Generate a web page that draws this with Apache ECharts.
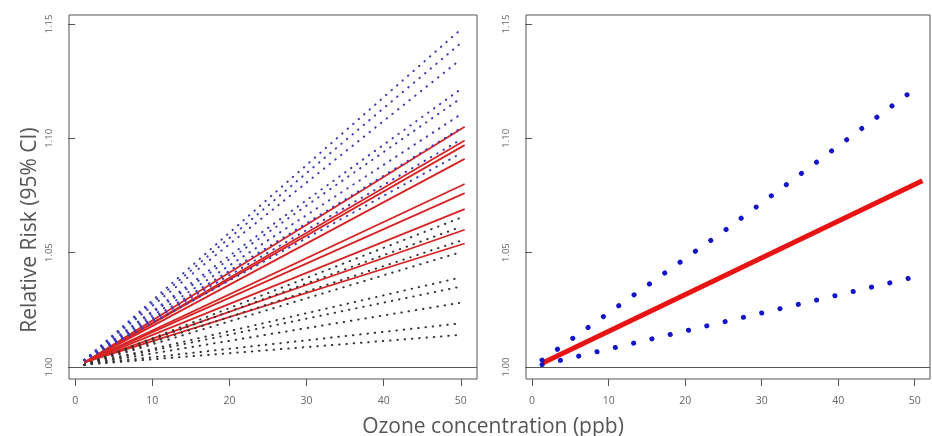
<!DOCTYPE html>
<html>
<head>
<meta charset="utf-8">
<script src="https://cdn.jsdelivr.net/npm/echarts@6/dist/echarts.min.js"></script>
<style>
  html, body { margin: 0; padding: 0; background: #fff; }
  #chart { width: 932px; height: 436px; }
</style>
</head>
<body>
<div id="chart"></div>
<script>
// tick labels
const xTicks = [0, 10, 20, 30, 40, 50];
const yTicks = [1.00, 1.05, 1.10, 1.15];

// left panel: one estimate line (red) + upper (blue) and lower (black) CI per model
const estX = [1.2, 50.5];
const ciX = [1.2, 49.8];
const estStart = 1.002;
const upperStart = 1.003;
const lowerStart = 1.001;
const estEnd = [1.105, 1.099, 1.097, 1.091, 1.080, 1.076, 1.069, 1.060, 1.054];
const upperEnd = [1.147, 1.141, 1.134, 1.121, 1.117, 1.110, 1.104, 1.099, 1.093];
const lowerEnd = [1.065, 1.061, 1.055, 1.050, 1.039, 1.035, 1.028, 1.019, 1.014];

// right panel: pooled estimate
const pooledX = [1.3, 51.0];
const pooledY = [1.0016, 1.0814];
const pooledUpperX = [1.3, 25.3, 49.0];
const pooledUpperY = [1.003, 1.060, 1.119];
const pooledLowerX = [1.3, 49.3];
const pooledLowerY = [1.001, 1.0388];

const font = "'Open Sans', 'DejaVu Sans', sans-serif";

function pairs(xs, ys) {
  return xs.map((x, i) => [x, ys[i]]);
}

function xAxisFor(gridIndex, max) {
  return {
    type: "value",
    gridIndex: gridIndex,
    min: -0.8,
    max: max,
    splitLine: { show: false },
    axisLine: { show: false },
    axisTick: {
      show: true,
      length: 7,
      customValues: xTicks,
      lineStyle: { color: "#555", width: 1 }
    },
    axisLabel: {
      customValues: xTicks,
      margin: 17,
      color: "#666",
      fontSize: 10.5,
      fontFamily: font
    }
  };
}

function yAxisFor(gridIndex) {
  return {
    type: "value",
    gridIndex: gridIndex,
    min: 0.99475,
    max: 1.1539,
    splitLine: { show: false },
    axisLine: { show: false },
    axisTick: {
      show: true,
      length: 7,
      customValues: yTicks,
      lineStyle: { color: "#555", width: 1 }
    },
    axisLabel: {
      customValues: yTicks,
      rotate: 90,
      margin: 15,
      color: "#666",
      fontSize: 9.5,
      fontFamily: font,
      formatter: v => v.toFixed(2)
    }
  };
}

const refLine = {
  silent: true,
  symbol: "none",
  label: { show: false },
  lineStyle: { color: "#555", width: 1, type: "solid" },
  data: [{ yAxis: 1 }]
};

const series = [];

// left panel
estEnd.forEach((end, i) => {
  series.push({
    type: "line",
    xAxisIndex: 0,
    yAxisIndex: 0,
    symbol: "none",
    silent: true,
    data: pairs(estX, [estStart, end]),
    lineStyle: { color: "#d62424", width: 1.8 },
    markLine: i === 0 ? refLine : undefined,
    z: 2
  });
});
upperEnd.forEach(end => {
  series.push({
    type: "line",
    xAxisIndex: 0,
    yAxisIndex: 0,
    symbol: "none",
    silent: true,
    data: pairs(ciX, [upperStart, end]),
    lineStyle: { color: "#3a3ab8", width: 2, type: [0.5, 6.8], cap: "round" },
    z: 3
  });
});
lowerEnd.forEach(end => {
  series.push({
    type: "line",
    xAxisIndex: 0,
    yAxisIndex: 0,
    symbol: "none",
    silent: true,
    data: pairs(ciX, [lowerStart, end]),
    lineStyle: { color: "#333", width: 2, type: [0.5, 6.8], cap: "round" },
    z: 3
  });
});

// right panel
series.push({
  type: "line",
  xAxisIndex: 1,
  yAxisIndex: 1,
  symbol: "none",
  silent: true,
  data: pairs(pooledX, pooledY),
  lineStyle: { color: "#e81414", width: 5 },
  markLine: refLine,
  z: 2
});
series.push({
  type: "line",
  xAxisIndex: 1,
  yAxisIndex: 1,
  symbol: "none",
  silent: true,
  data: pairs(pooledUpperX, pooledUpperY),
  lineStyle: { color: "#1414c8", width: 5, type: [0.1, 18.7], cap: "round" },
  z: 3
});
series.push({
  type: "line",
  xAxisIndex: 1,
  yAxisIndex: 1,
  symbol: "none",
  silent: true,
  data: pairs(pooledLowerX, pooledLowerY),
  lineStyle: { color: "#1414c8", width: 5, type: [0.1, 18.7], cap: "round" },
  z: 3
});

const chart = echarts.init(document.getElementById("chart"), null, { renderer: "canvas" });
chart.setOption({
  animation: false,
  backgroundColor: "#fff",
  title: {
    text: "Ozone concentration (ppb)",
    left: 488,
    top: 412,
    textAlign: "center",
    textStyle: { color: "#555", fontSize: 21, fontWeight: "normal", fontFamily: font }
  },
  graphic: [{
    type: "text",
    x: 30,
    y: 230,
    rotation: Math.PI / 2,
    style: {
      text: "Relative Risk (95% CI)",
      fill: "#555",
      font: "21px " + font,
      textAlign: "center",
      textVerticalAlign: "middle"
    }
  }],
  grid: [
    { left: 69, top: 15, width: 408, height: 364, show: true, borderColor: "#555", borderWidth: 1, backgroundColor: "transparent" },
    { left: 526, top: 15, width: 404, height: 364, show: true, borderColor: "#555", borderWidth: 1, backgroundColor: "transparent" }
  ],
  xAxis: [xAxisFor(0, 52.1), xAxisFor(1, 52.0)],
  yAxis: [yAxisFor(0), yAxisFor(1)],
  series: series
});
</script>
</body>
</html>
